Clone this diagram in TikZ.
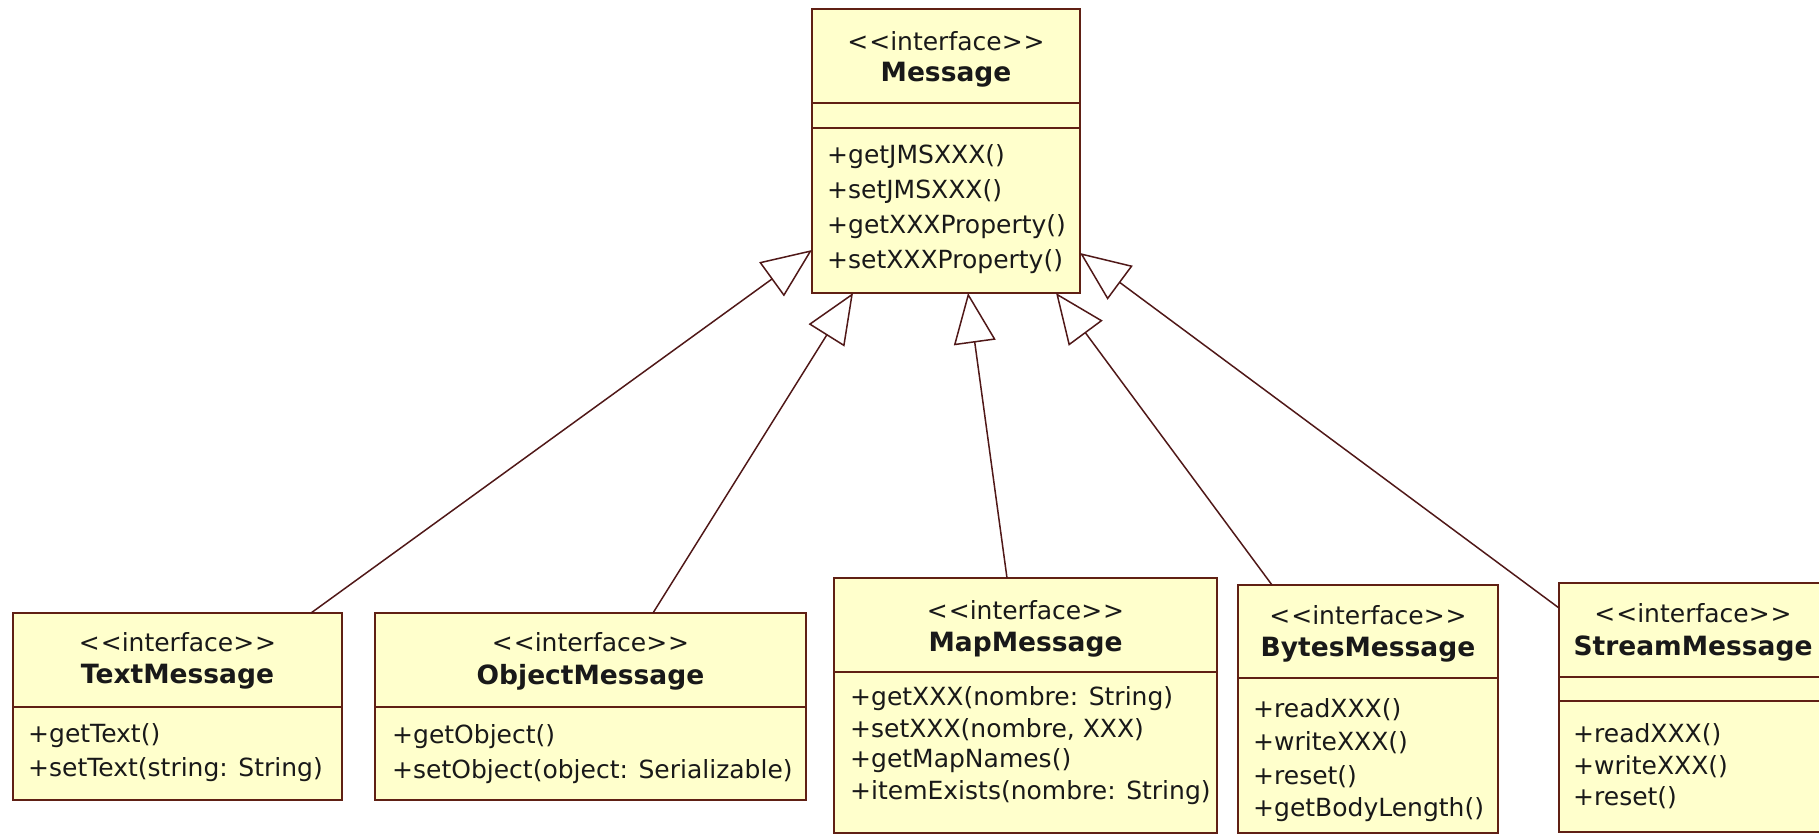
\documentclass[tikz,border=0pt]{standalone}
\usepackage{fontspec}
\setmainfont{DejaVu Sans}
\usetikzlibrary{arrows.meta,calc}
\definecolor{boxfill}{RGB}{255,255,204}
\definecolor{boxline}{RGB}{96,32,20}
\definecolor{linkcol}{RGB}{80,24,24}
\definecolor{txtcol}{RGB}{25,25,25}
\newcommand{\stereotxt}{<\kern1pt<\kern0pt interface\kern0pt>\kern1pt>}
\begin{document}
\begin{tikzpicture}[x=1pt,y=-1pt,
  cls/.style={draw=boxline, line width=2pt, fill=boxfill, anchor=north west, inner sep=0pt, outer sep=0pt},
  stereo/.style={font=\fontsize{25}{30}\selectfont, inner sep=0pt, text=txtcol},
  cname/.style={font=\fontsize{26.5}{30}\selectfont\bfseries, inner sep=0pt, text=txtcol},
  meth/.style={font=\fontsize{25}{30}\selectfont, anchor=west, inner sep=0pt, text=txtcol},
  divider/.style={draw=boxline, line width=2pt},
  gen/.style={draw=linkcol, line width=1.5pt, -{Triangle[open, length=50pt, width=42pt, fill=white]}}]
\useasboundingbox (0,0) rectangle (1819,834);
\clip (0,0) rectangle (1819,834);

% ---------- Message ----------
\node[cls, minimum width=268pt, minimum height=284pt] (msg) at (812,9) {};
\draw[divider] ([yshift=-94pt]msg.north west) -- ([yshift=-94pt]msg.north east);
\draw[divider] ([yshift=-119pt]msg.north west) -- ([yshift=-119pt]msg.north east);
\node[stereo] (msgS) at (946,41) {\stereotxt};
\node[cname] (msgN) at (946,75) {Message};
\node[meth] (msgM1) at (827,157) {+getJMSXXX()};
\node[meth] (msgM2) at (827,192) {+setJMSXXX()};
\node[meth] (msgM3) at (827,227) {+getXXXProperty()};
\node[meth] (msgM4) at (827,262) {+setXXXProperty()};

% ---------- TextMessage ----------
\node[cls, minimum width=329pt, minimum height=187pt] (txt) at (13,613) {};
\draw[divider] ([yshift=-94pt]txt.north west) -- ([yshift=-94pt]txt.north east);
\node[stereo] (txtS) at (177.5,642) {\stereotxt};
\node[cname] (txtN) at (177.5,677) {TextMessage};
\node[meth] (txtM1) at (28,736) {+getText()};
\node[meth] (txtM2) at (28,770) {+setText(string: String)};

% ---------- ObjectMessage ----------
\node[cls, minimum width=431pt, minimum height=187pt] (obj) at (375,613) {};
\draw[divider] ([yshift=-94pt]obj.north west) -- ([yshift=-94pt]obj.north east);
\node[stereo] (objS) at (590.5,642) {\stereotxt};
\node[cname] (objN) at (590.5,677) {ObjectMessage};
\node[meth] (objM1) at (392,737) {+getObject()};
\node[meth] (objM2) at (392,772) {+setObject(object: Serializable)};

% ---------- MapMessage ----------
\node[cls, minimum width=383pt, minimum height=255pt] (map) at (834,578) {};
\draw[divider] ([yshift=-94pt]map.north west) -- ([yshift=-94pt]map.north east);
\node[stereo] (mapS) at (1025.5,610) {\stereotxt};
\node[cname] (mapN) at (1025.5,645) {MapMessage};
\node[meth] (mapM1) at (850,699) {+getXXX(nombre: String)};
\node[meth] (mapM2) at (850,730) {+setXXX(nombre, XXX)};
\node[meth] (mapM3) at (850,761) {+getMapNames()};
\node[meth] (mapM4) at (850,793) {+itemExists(nombre: String)};

% ---------- BytesMessage ----------
\node[cls, minimum width=260pt, minimum height=248pt] (byt) at (1238,585) {};
\draw[divider] ([yshift=-93pt]byt.north west) -- ([yshift=-93pt]byt.north east);
\node[stereo] (bytS) at (1368,615) {\stereotxt};
\node[cname] (bytN) at (1368,650) {BytesMessage};
\node[meth] (bytM1) at (1253,710) {+readXXX()};
\node[meth] (bytM2) at (1253,743) {+writeXXX()};
\node[meth] (bytM3) at (1253,777) {+reset()};
\node[meth] (bytM4) at (1253,810) {+getBodyLength()};

% ---------- StreamMessage ----------
\node[cls, minimum width=268pt, minimum height=249pt] (str) at (1559,583) {};
\draw[divider] ([yshift=-94pt]str.north west) -- ([yshift=-94pt]str.north east);
\draw[divider] ([yshift=-118pt]str.north west) -- ([yshift=-118pt]str.north east);
\node[stereo] (strS) at (1693,613) {\stereotxt};
\node[cname] (strN) at (1693,649) {StreamMessage};
\node[meth] (strM1) at (1573,735) {+readXXX()};
\node[meth] (strM2) at (1573,767) {+writeXXX()};
\node[meth] (strM3) at (1573,798) {+reset()};

% ---------- connector end points ----------
\coordinate (txtTop) at ([xshift=298pt]txt.north west);
\coordinate (objTop) at ([xshift=278pt]obj.north west);
\coordinate (mapTop) at ([xshift=173pt]map.north west);
\coordinate (bytTop) at ([xshift=34pt]byt.north west);
\coordinate (strTop) at ([yshift=-25pt]str.north west);
\coordinate (msgA) at ([yshift=-241pt]msg.north west);
\coordinate (msgB) at ([xshift=41pt]msg.south west);
\coordinate (msgC) at ([xshift=156pt]msg.south west);
\coordinate (msgD) at ([xshift=244pt]msg.south west);
\coordinate (msgE) at ([yshift=-244pt]msg.north east);

% ---------- generalizations ----------
\draw[gen] (txtTop) -- (msgA);
\draw[gen] (objTop) -- (msgB);
\draw[gen] (mapTop) -- (msgC);
\draw[gen] (bytTop) -- (msgD);
\draw[gen] (strTop) -- (msgE);
\end{tikzpicture}
\end{document}
